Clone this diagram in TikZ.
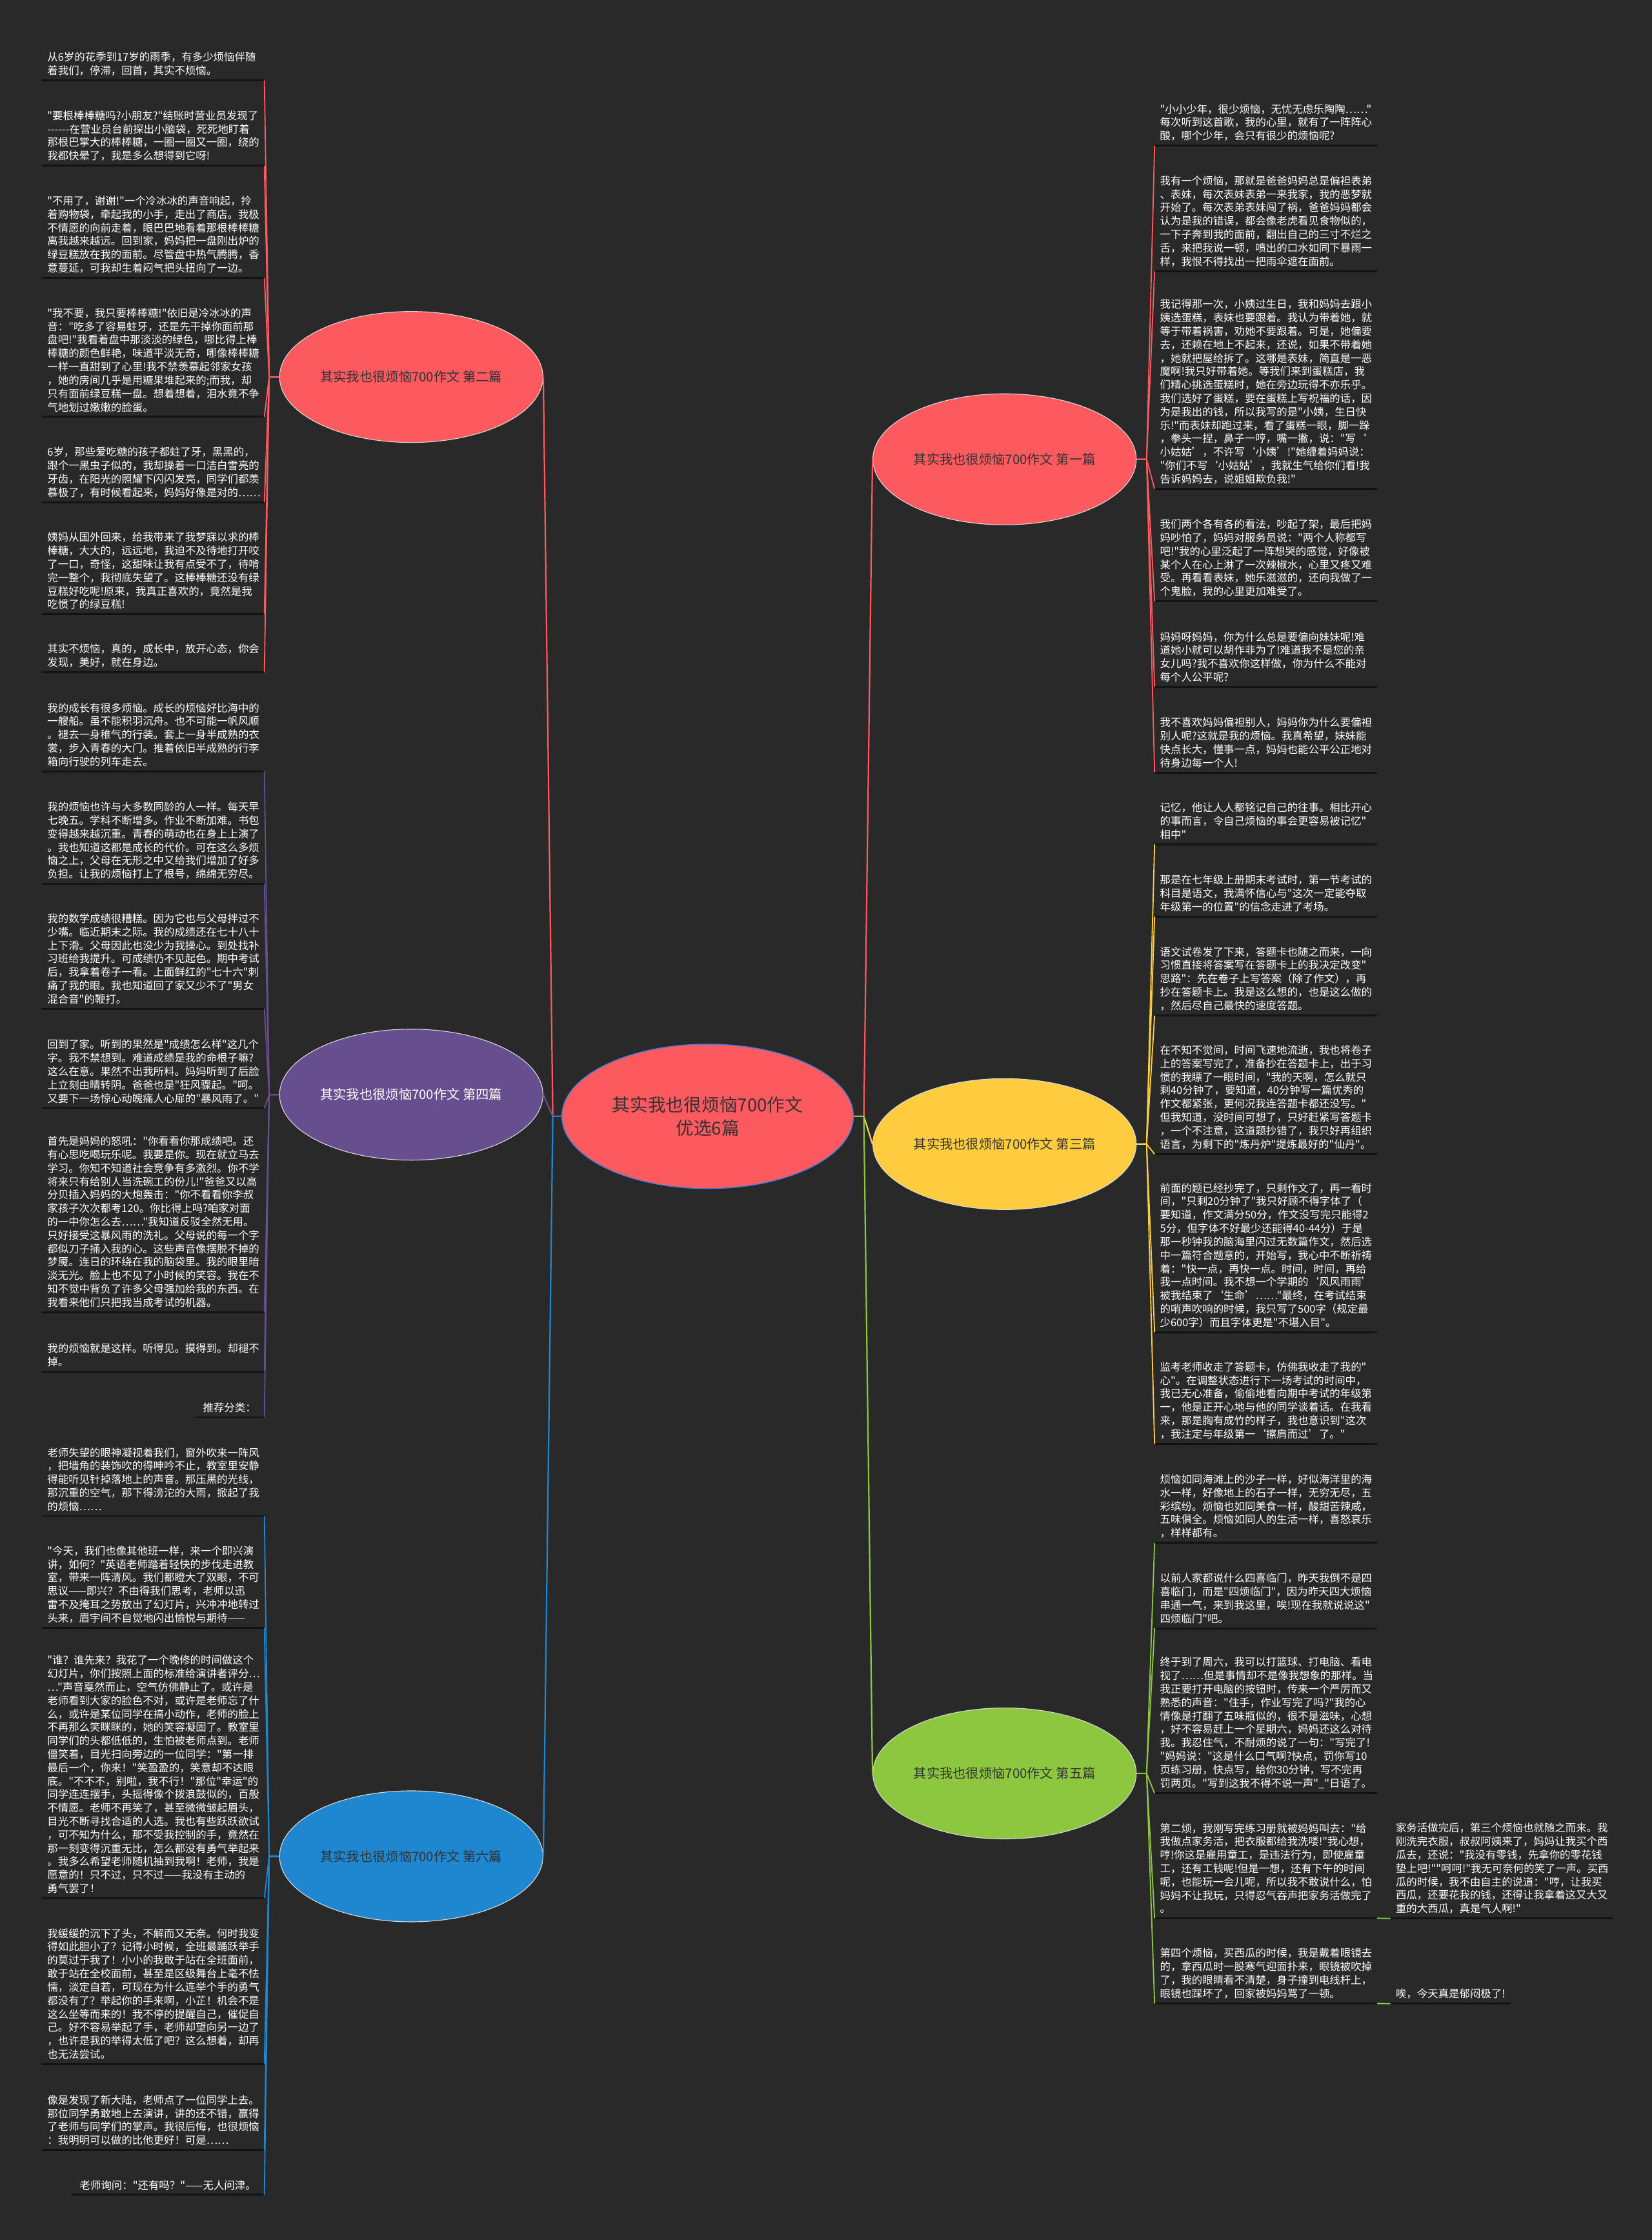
\documentclass[tikz,border=0pt]{standalone}
\usepackage{fontspec}
\newfontfamily\cjk{Noto Sans CJK SC}
\usetikzlibrary{shapes.geometric}
\definecolor{bgc}{HTML}{292929}
\definecolor{ulc}{HTML}{121212}
\definecolor{cred}{HTML}{FD5A60}
\definecolor{cyel}{HTML}{FECC3E}
\definecolor{cpur}{HTML}{674E8E}
\definecolor{cgrn}{HTML}{8DC63F}
\definecolor{cblu}{HTML}{1F87CF}
\definecolor{dtxt}{HTML}{333333}
\definecolor{cbord}{HTML}{3F7FD9}
\newcommand\lf{\fontsize{4.45pt}{5.64pt}\selectfont\cjk}
\newcommand\brfont{\fontsize{5.5pt}{6.6pt}\selectfont\cjk}
\newcommand\cenfont{\fontsize{7.5pt}{9.9pt}\selectfont\cjk}
\newcommand\hy{\mbox{-}}
\tikzset{
  leaf/.style={font=\lf, text=white, align=left, text width=88.8pt, inner xsep=2.1pt, inner ysep=1.8pt},
  leafn/.style={font=\lf, text=white, align=left, inner xsep=3.3pt, inner ysep=1.8pt},
  uline/.style={draw=ulc, line width=0.8pt},
  brn/.style={ellipse, draw=white!85!black, line width=0.3pt, inner sep=0pt, minimum width=110.6pt, minimum height=55pt, font=\brfont, text=dtxt},
  cen/.style={ellipse, draw=cbord, line width=0.4pt, inner sep=0pt, minimum width=122.4pt, minimum height=60.6pt, font=\cenfont, text=dtxt, align=center, fill=cred},
  main/.style={line width=0.6pt},
  sub/.style={line width=0.5pt}
}
% name, y, parent, colour, text
\newcommand\leafL[5]{%
  \node[leaf, anchor=south east] (#1) at (185,#2) {#5};
  \draw[uline] (#1.south west) -- (#1.south east);
  \draw[sub, draw=#4] (#3.west) -- ++(-7,0) -- (#1.south east);}
\newcommand\leafR[5]{%
  \node[leaf, anchor=south west] (#1) at (808,#2) {#5};
  \draw[uline] (#1.south west) -- (#1.south east);
  \draw[sub, draw=#4] (#3.east) -- ++(7,0) -- (#1.south west);}
\begin{document}
\begin{tikzpicture}[x=0.6pt,y=-0.6pt]
\fill[bgc] (0,0) rectangle (1156,1567.5);
\useasboundingbox (0,0) rectangle (1156,1567.5);

\node[cen] (c) at (495.2,781.2) {其实我也很烦恼700作文\\优选6篇};
\node[brn, fill=cred] (b1) at (703,321.4) {其实我也很烦恼700作文 第一篇};
\node[brn, fill=cred] (b2) at (287.8,263.8) {其实我也很烦恼700作文 第二篇};
\node[brn, fill=cyel] (b3) at (703,800.6) {其实我也很烦恼700作文 第三篇};
\node[brn, fill=cpur, text=white] (b4) at (287.8,766) {其实我也很烦恼700作文 第四篇};
\node[brn, fill=cgrn] (b5) at (703,1241) {其实我也很烦恼700作文 第五篇};
\node[brn, fill=cblu] (b6) at (287.8,1299) {其实我也很烦恼700作文 第六篇};

\draw[main, draw=cred] (c.west) -- ++(-6,0) -- (b2.east);
\draw[main, draw=cpur] (c.west) -- ++(-6,0) -- (b4.east);
\draw[main, draw=cblu] (c.west) -- ++(-6,0) -- (b6.east);
\draw[main, draw=cred] (c.east) -- ++(7,0) -- (b1.west);
\draw[main, draw=cyel] (c.east) -- ++(7,0) -- (b3.west);
\draw[main, draw=cgrn] (c.east) -- ++(7,0) -- (b5.west);

% ---- 第二篇
\leafL{l1}{56.3}{b2}{cred}{从6岁的花季到17岁的雨季，有多少烦恼伴随\\着我们，停滞，回首，其实不烦恼。}
\leafL{l2}{116.0}{b2}{cred}{"要根棒棒糖吗?小朋友?"结账时营业员发现了\\\hy\hy\hy\hy\hy\hy 在营业员台前探出小脑袋，死死地盯着\\那根巴掌大的棒棒糖，一圈一圈又一圈，绕的\\我都快晕了，我是多么想得到它呀!}
\leafL{l3}{194.5}{b2}{cred}{"不用了，谢谢!"一个冷冰冰的声音响起，拎\\着购物袋，牵起我的小手，走出了商店。我极\\不情愿的向前走着，眼巴巴地看着那根棒棒糖\\离我越来越远。回到家，妈妈把一盘刚出炉的\\绿豆糕放在我的面前。尽管盘中热气腾腾，香\\意蔓延，可我却生着闷气把头扭向了一边。}
\leafL{l4}{291.7}{b2}{cred}{"我不要，我只要棒棒糖!"依旧是冷冰冰的声\\音："吃多了容易蛀牙，还是先干掉你面前那\\盘吧!"我看着盘中那淡淡的绿色，哪比得上棒\\棒糖的颜色鲜艳，味道平淡无奇，哪像棒棒糖\\一样一直甜到了心里!我不禁羡慕起邻家女孩\\，她的房间几乎是用糖果堆起来的;而我，却\\只有面前绿豆糕一盘。想着想着，泪水竟不争\\气地划过嫩嫩的脸蛋。}
\leafL{l5}{351.4}{b2}{cred}{6岁，那些爱吃糖的孩子都蛀了牙，黑黑的，\\跟个一黑虫子似的，我却操着一口洁白雪亮的\\牙齿，在阳光的照耀下闪闪发亮，同学们都羡\\慕极了，有时候看起来，妈妈好像是对的……}
\leafL{l6}{429.7}{b2}{cred}{姨妈从国外回来，给我带来了我梦寐以求的棒\\棒糖，大大的，远远地，我迫不及待地打开咬\\了一口，奇怪，这甜味让我有点受不了，待啃\\完一整个，我彻底失望了。这棒棒糖还没有绿\\豆糕好吃呢!原来，我真正喜欢的，竟然是我\\吃惯了的绿豆糕!}
\leafL{l7}{470.5}{b2}{cred}{其实不烦恼，真的，成长中，放开心态，你会\\发现，美好，就在身边。}

% ---- 第四篇
\leafL{l8}{539.7}{b4}{cpur}{我的成长有很多烦恼。成长的烦恼好比海中的\\一艘船。虽不能积羽沉舟。也不可能一帆风顺\\。褪去一身稚气的行装。套上一身半成熟的衣\\裳，步入青春的大门。推着依旧半成熟的行李\\箱向行驶的列车走去。}
\leafL{l9}{618.6}{b4}{cpur}{我的烦恼也许与大多数同龄的人一样。每天早\\七晚五。学科不断增多。作业不断加难。书包\\变得越来越沉重。青春的萌动也在身上上演了\\。我也知道这都是成长的代价。可在这么多烦\\恼之上，父母在无形之中又给我们增加了好多\\负担。让我的烦恼打上了根号，绵绵无穷尽。}
\leafL{l10}{705.9}{b4}{cpur}{我的数学成绩很糟糕。因为它也与父母拌过不\\少嘴。临近期末之际。我的成绩还在七十八十\\上下滑。父母因此也没少为我操心。到处找补\\习班给我提升。可成绩仍不见起色。期中考试\\后，我拿着卷子一看。上面鲜红的"七十六"刺\\痛了我的眼。我也知道回了家又少不了"男女\\混合音"的鞭打。}
\leafL{l11}{775.3}{b4}{cpur}{回到了家。听到的果然是"成绩怎么样"这几个\\字。我不禁想到。难道成绩是我的命根子嘛?\\这么在意。果然不出我所料。妈妈听到了后脸\\上立刻由晴转阴。爸爸也是"狂风骤起。"呵。\\又要下一场惊心动魄痛人心扉的"暴风雨了。"}
\leafL{l12}{918.2}{b4}{cpur}{首先是妈妈的怒吼："你看看你那成绩吧。还\\有心思吃喝玩乐呢。我要是你。现在就立马去\\学习。你知不知道社会竞争有多激烈。你不学\\将来只有给别人当洗碗工的份儿!"爸爸又以高\\分贝插入妈妈的大炮轰击："你不看看你李叔\\家孩子次次都考120。你比得上吗?咱家对面\\的一中你怎么去……"我知道反驳全然无用。\\只好接受这暴风雨的洗礼。父母说的每一个字\\都似刀子捅入我的心。这些声音像摆脱不掉的\\梦魇。连日的环绕在我的脑袋里。我的眼里暗\\淡无光。脸上也不见了小时候的笑容。我在不\\知不觉中背负了许多父母强加给我的东西。在\\我看来他们只把我当成考试的机器。}
\leafL{l13}{959.7}{b4}{cpur}{我的烦恼就是这样。听得见。摸得到。却褪不\\掉。}
\node[leafn, anchor=south east] (l14) at (185,991.7) {推荐分类：};
\draw[uline] (l14.south west) -- (l14.south east);
\draw[sub, draw=cpur] (b4.west) -- ++(-7,0) -- (l14.south east);

% ---- 第六篇
\leafL{l15}{1060.8}{b6}{cblu}{老师失望的眼神凝视着我们，窗外吹来一阵风\\，把墙角的装饰吹的得呻吟不止，教室里安静\\得能听见针掉落地上的声音。那压黑的光线，\\那沉重的空气，那下得滂沱的大雨，掀起了我\\的烦恼……}
\leafL{l16}{1139.1}{b6}{cblu}{"今天，我们也像其他班一样，来一个即兴演\\讲，如何？"英语老师踏着轻快的步伐走进教\\室，带来一阵清风。我们都瞪大了双眼，不可\\思议——即兴？不由得我们思考，老师以迅\\雷不及掩耳之势放出了幻灯片，兴冲冲地转过\\头来，眉宇间不自觉地闪出愉悦与期待——}
\leafL{l17}{1328.3}{b6}{cblu}{"谁？谁先来？我花了一个晚修的时间做这个\\幻灯片，你们按照上面的标准给演讲者评分…\\…"声音戛然而止，空气仿佛静止了。或许是\\老师看到大家的脸色不对，或许是老师忘了什\\么，或许是某位同学在搞小动作，老师的脸上\\不再那么笑眯眯的，她的笑容凝固了。教室里\\同学们的头都低低的，生怕被老师点到。老师\\僵笑着，目光扫向旁边的一位同学："第一排\\最后一个，你来！"笑盈盈的，笑意却不达眼\\底。"不不不，别啦，我不行！"那位"幸运"的\\同学连连摆手，头摇得像个拨浪鼓似的，百般\\不情愿。老师不再笑了，甚至微微皱起眉头，\\目光不断寻找合适的人选。我也有些跃跃欲试\\，可不知为什么，那不受我控制的手，竟然在\\那一刻变得沉重无比，怎么都没有勇气举起来\\。我多么希望老师随机抽到我啊！老师，我是\\愿意的！只不过，只不过——我没有主动的\\勇气罢了！}
\leafL{l18}{1444.3}{b6}{cblu}{我缓缓的沉下了头，不解而又无奈。何时我变\\得如此胆小了？记得小时候，全班最踊跃举手\\的莫过于我了！小小的我敢于站在全班面前，\\敢于站在全校面前，甚至是区级舞台上毫不怯\\懦，淡定自若，可现在为什么连举个手的勇气\\都没有了？举起你的手来啊，小芷！机会不是\\这么坐等而来的！我不停的提醒自己，催促自\\己。好不容易举起了手，老师却望向另一边了\\，也许是我的举得太低了吧？这么想着，却再\\也无法尝试。}
\leafL{l19}{1504.5}{b6}{cblu}{像是发现了新大陆，老师点了一位同学上去。\\那位同学勇敢地上去演讲，讲的还不错，赢得\\了老师与同学们的掌声。我很后悔，也很烦恼\\：我明明可以做的比他更好！可是……}
\node[leafn, anchor=south east] (l20) at (185,1535.8) {老师询问："还有吗？"——无人问津。};
\draw[uline] (l20.south west) -- (l20.south east);
\draw[sub, draw=cblu] (b6.west) -- ++(-7,0) -- (l20.south east);

% ---- 第一篇
\leafR{r1}{102.0}{b1}{cred}{"小小少年，很少烦恼，无忧无虑乐陶陶……"\\每次听到这首歌，我的心里，就有了一阵阵心\\酸，哪个少年，会只有很少的烦恼呢?}
\leafR{r2}{189.8}{b1}{cred}{我有一个烦恼，那就是爸爸妈妈总是偏袒表弟\\、表妹，每次表妹表弟一来我家，我的恶梦就\\开始了。每次表弟表妹闯了祸，爸爸妈妈都会\\认为是我的错误，都会像老虎看见食物似的，\\一下子奔到我的面前，翻出自己的三寸不烂之\\舌，来把我说一顿，喷出的口水如同下暴雨一\\样，我恨不得找出一把雨伞遮在面前。}
\leafR{r3}{342.1}{b1}{cred}{我记得那一次，小姨过生日，我和妈妈去跟小\\姨选蛋糕，表妹也要跟着。我认为带着她，就\\等于带着祸害，劝她不要跟着。可是，她偏要\\去，还赖在地上不起来，还说，如果不带着她\\，她就把屋给拆了。这哪是表妹，简直是一恶\\魔啊!我只好带着她。等我们来到蛋糕店，我\\们精心挑选蛋糕时，她在旁边玩得不亦乐乎。\\我们选好了蛋糕，要在蛋糕上写祝福的话，因\\为是我出的钱，所以我写的是"小姨，生日快\\乐!"而表妹却跑过来，看了蛋糕一眼，脚一跺\\，拳头一捏，鼻子一哼，嘴一撇，说："写‘\\小姑姑’，不许写‘小姨’!"她缠着妈妈说：\\"你们不写‘小姑姑’，我就生气给你们看!我\\告诉妈妈去，说姐姐欺负我!"}
\leafR{r4}{420.8}{b1}{cred}{我们两个各有各的看法，吵起了架，最后把妈\\妈吵怕了，妈妈对服务员说："两个人称都写\\吧!"我的心里泛起了一阵想哭的感觉，好像被\\某个人在心上淋了一次辣椒水，心里又疼又难\\受。再看看表妹，她乐滋滋的，还向我做了一\\个鬼脸，我的心里更加难受了。}
\leafR{r5}{480.6}{b1}{cred}{妈妈呀妈妈，你为什么总是要偏向妹妹呢!难\\道她小就可以胡作非为了!难道我不是您的亲\\女儿吗?我不喜欢你这样做，你为什么不能对\\每个人公平呢?}
\leafR{r6}{540.6}{b1}{cred}{我不喜欢妈妈偏袒别人，妈妈你为什么要偏袒\\别人呢?这就是我的烦恼。我真希望，妹妹能\\快点长大，懂事一点，妈妈也能公平公正地对\\待身边每一个人!}

% ---- 第三篇
\leafR{r7}{590.8}{b3}{cyel}{记忆，他让人人都铭记自己的往事。相比开心\\的事而言，令自己烦恼的事会更容易被记忆"\\相中"}
\leafR{r8}{641.4}{b3}{cyel}{那是在七年级上册期末考试时，第一节考试的\\科目是语文，我满怀信心与"这次一定能夺取\\年级第一的位置"的信念走进了考场。}
\leafR{r9}{710.6}{b3}{cyel}{语文试卷发了下来，答题卡也随之而来，一向\\习惯直接将答案写在答题卡上的我决定改变"\\思路"：先在卷子上写答案（除了作文），再\\抄在答题卡上。我是这么想的，也是这么做的\\，然后尽自己最快的速度答题。}
\leafR{r10}{807.6}{b3}{cyel}{在不知不觉间，时间飞速地流逝，我也将卷子\\上的答案写完了，准备抄在答题卡上，出于习\\惯的我瞟了一眼时间，"我的天啊，怎么就只\\剩40分钟了，要知道，40分钟写一篇优秀的\\作文都紧张，更何况我连答题卡都还没写。"\\但我知道，没时间可想了，只好赶紧写答题卡\\，一个不注意，这道题抄错了，我只好再组织\\语言，为剩下的"炼丹炉"提炼最好的"仙丹"。}
\leafR{r11}{932.2}{b3}{cyel}{前面的题已经抄完了，只剩作文了，再一看时\\间，"只剩20分钟了"我只好顾不得字体了（\\要知道，作文满分50分，作文没写完只能得2\\5分，但字体不好最少还能得40-44分）于是\\那一秒钟我的脑海里闪过无数篇作文，然后选\\中一篇符合题意的，开始写，我心中不断祈祷\\着："快一点，再快一点。时间，时间，再给\\我一点时间。我不想一个学期的‘风风雨雨’\\被我结束了‘生命’……"最终，在考试结束\\的哨声吹响的时候，我只写了500字（规定最\\少600字）而且字体更是"不堪入目"。}
\leafR{r12}{1010.4}{b3}{cyel}{监考老师收走了答题卡，仿佛我收走了我的"\\心"。在调整状态进行下一场考试的时间中，\\我已无心准备，偷偷地看向期中考试的年级第\\一，他是正开心地与他的同学谈着话。在我看\\来，那是胸有成竹的样子，我也意识到"这次\\，我注定与年级第一‘擦肩而过’了。"}

% ---- 第五篇
\leafR{r13}{1079.7}{b5}{cgrn}{烦恼如同海滩上的沙子一样，好似海洋里的海\\水一样，好像地上的石子一样，无穷无尽，五\\彩缤纷。烦恼也如同美食一样，酸甜苦辣咸，\\五味俱全。烦恼如同人的生活一样，喜怒哀乐\\，样样都有。}
\leafR{r14}{1139.4}{b5}{cgrn}{以前人家都说什么四喜临门，昨天我倒不是四\\喜临门，而是"四烦临门"，因为昨天四大烦恼\\串通一气，来到我这里，唉!现在我就说说这"\\四烦临门"吧。}
\leafR{r15}{1254.9}{b5}{cgrn}{终于到了周六，我可以打篮球、打电脑、看电\\视了……但是事情却不是像我想象的那样。当\\我正要打开电脑的按钮时，传来一个严厉而又\\熟悉的声音："住手，作业写完了吗?"我的心\\情像是打翻了五味瓶似的，很不是滋味，心想\\，好不容易赶上一个星期六，妈妈还这么对待\\我。我忍住气，不耐烦的说了一句："写完了!\\"妈妈说："这是什么口气啊?快点，罚你写10\\页练习册，快点写，给你30分钟，写不完再\\罚两页。"写到这我不得不说一声"\_"日语了。}
\leafR{r16}{1342.3}{b5}{cgrn}{第二烦，我刚写完练习册就被妈妈叫去："给\\我做点家务活，把衣服都给我洗喽!"我心想，\\哼!你这是雇用童工，是违法行为，即使雇童\\工，还有工钱呢!但是一想，还有下午的时间\\呢，也能玩一会儿呢，所以我不敢说什么，怕\\妈妈不让我玩，只得忍气吞声把家务活做完了\\。}
\leafR{r17}{1402.0}{b5}{cgrn}{第四个烦恼，买西瓜的时候，我是戴着眼镜去\\的，拿西瓜时一股寒气迎面扑来，眼镜被吹掉\\了，我的眼睛看不清楚，身子撞到电线杆上，\\眼镜也踩坏了，回家被妈妈骂了一顿。}

\node[leaf, anchor=south west] (f1) at (973,1342.5) {家务活做完后，第三个烦恼也就随之而来。我\\刚洗完衣服，叔叔阿姨来了，妈妈让我买个西\\瓜去，还说："我没有零钱，先拿你的零花钱\\垫上吧!""呵呵!"我无可奈何的笑了一声。买西\\瓜的时候，我不由自主的说道："哼，让我买\\西瓜，还要花我的钱，还得让我拿着这又大又\\重的大西瓜，真是气人啊!"};
\draw[uline] (f1.south west) -- (f1.south east);
\draw[sub, draw=cgrn] (r16.south east) -- (f1.south west);
\node[leafn, inner xsep=2.1pt, anchor=south west] (f2) at (973,1402.1) {唉，今天真是郁闷极了!};
\draw[uline] (f2.south west) -- (f2.south east);
\draw[sub, draw=cgrn] (r17.south east) -- (f2.south west);
\end{tikzpicture}
\end{document}
